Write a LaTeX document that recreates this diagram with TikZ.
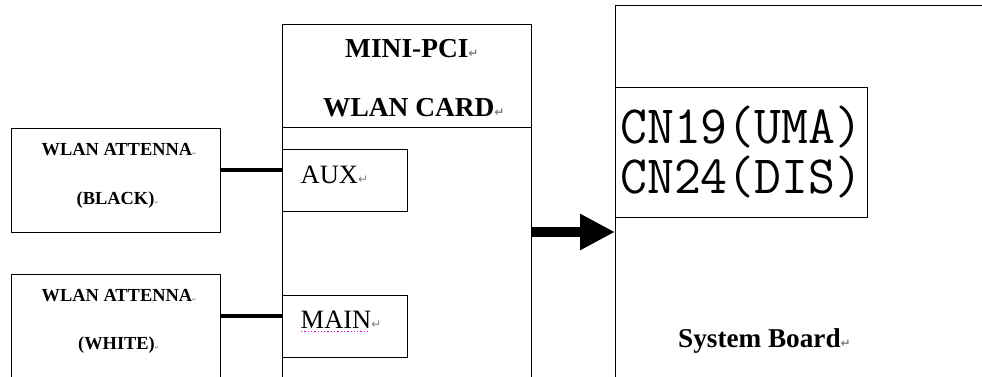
\documentclass[tikz,border=0pt]{standalone}
\usepackage{fontspec}
\setmainfont{Liberation Serif}
\newfontfamily\symfont{DejaVu Sans}
\usetikzlibrary{arrows.meta}
\definecolor{gramline}{RGB}{215,0,215}
\newcommand{\retmark}[1]{\textcolor{gray}{\symfont\fontsize{#1}{#1}\selectfont ↵}}
\begin{document}
\begin{tikzpicture}[x=1pt,y=-1pt,
  box/.style={draw, line width=1pt, rectangle, inner sep=0pt, anchor=north west},
  wire/.style={line width=3.6pt},
  lbl/.style={inner sep=0pt, anchor=base west},
  antfont/.style={font=\bfseries\fontsize{18.4}{18.4}\selectfont},
  cardfont/.style={font=\bfseries\fontsize{27.4}{27.4}\selectfont},
  portfont/.style={font=\fontsize{26.5}{26.5}\selectfont},
  boardfont/.style={font=\bfseries\fontsize{27.2}{27.2}\selectfont},
  cnstyle/.style={inner sep=0pt, anchor=base west, font=\ttfamily\fontsize{50}{50}\selectfont}]
\useasboundingbox (0,0) rectangle (982,377);
\clip (0,0) rectangle (982,377);
\fill[white] (0,0) rectangle (982,377);
% antenna boxes
\node[box, minimum width=209pt, minimum height=104pt] (ant1) at (11,128) {};
\node[box, minimum width=209pt, minimum height=120pt] (ant2) at (11,274) {};
\node[lbl, antfont] (ant1a) at (41.5,155.5) {WLAN ATTENNA\retmark{5}};
\node[lbl, antfont] (ant1b) at (76.5,204.5) {(BLACK)\retmark{5}};
\node[lbl, antfont] (ant2a) at (41.5,301.5) {WLAN ATTENNA\retmark{5}};
\node[lbl, antfont] (ant2b) at (78,349) {(WHITE)\retmark{5}};
% mini-pci card
\node[box, minimum width=249pt, minimum height=380pt] (mini) at (282,24) {};
\coordinate (divL) at (282,128);
\coordinate (divR) at (531,128);
\draw[line width=1pt] (divL) -- (divR);
\node[lbl, cardfont] (minia) at (345,58) {MINI-PCI\retmark{12}};
\node[lbl, cardfont] (minib) at (323,116.5) {WLAN CARD\retmark{12}};
\node[box, minimum width=125pt, minimum height=62pt] (aux) at (282,149) {};
\node[box, minimum width=125pt, minimum height=62pt] (main) at (282,295) {};
\node[lbl, portfont] (auxt) at (300.5,183) {AUX\retmark{12}};
\node[lbl, portfont] (maint) at (300.5,328) {MAIN\retmark{12}};
\coordinate (ulA) at (301,331.5);
\coordinate (ulB) at (370,331.5);
\draw[gramline, line width=1.3pt, dotted] (ulA) -- (ulB);
% system board
\node[box, minimum width=400pt, minimum height=400pt] (sys) at (615,5) {};
\node[box, minimum width=252pt, minimum height=130pt] (cn) at (615,87) {};
\node[cnstyle] (cn1) at (620,143) {\scalebox{1.045}[1.08]{CN19(UMA)}};
\node[cnstyle] (cn2) at (620,193) {\scalebox{1.045}[1.08]{CN24(DIS)}};
\node[lbl, boardfont] (board) at (678,347) {System Board\retmark{12}};
% connectors
\coordinate (w1) at (220,170);
\coordinate (w2) at (220,316);
\draw[wire] (w1) -- (w1 -| aux.west);
\draw[wire] (w2) -- (w2 -| main.west);
\coordinate (arS) at (531,232);
\draw[line width=10pt, -{Triangle[length=35pt,width=34pt]}] (arS) -- (arS -| sys.west);
\end{tikzpicture}
\end{document}
